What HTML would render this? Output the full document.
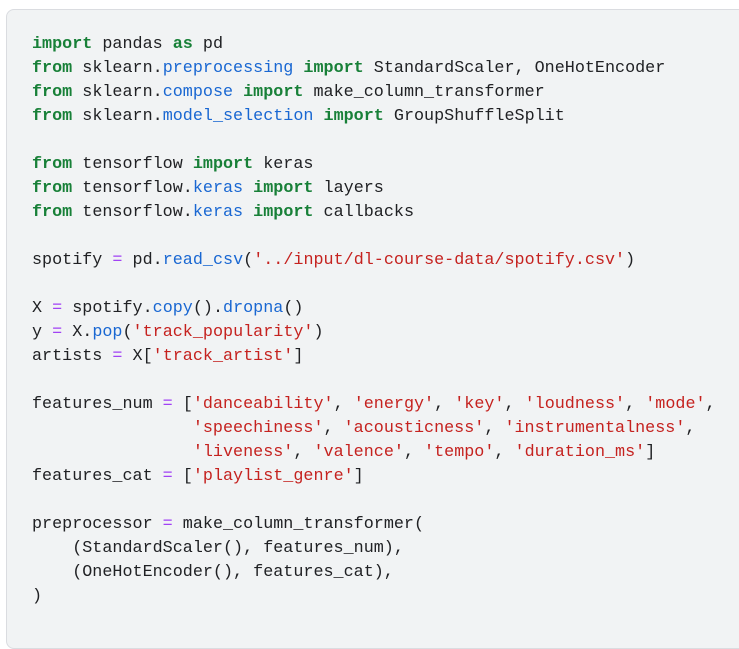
<!DOCTYPE html>
<html><head><style>
html,body{margin:0;padding:0;background:#fff;width:739px;height:620px;overflow:hidden}
.box{position:absolute;left:6px;top:9px;width:760px;height:640px;background:#f1f3f4;border:1px solid #dadce0;border-radius:8px;box-sizing:border-box}
pre{position:absolute;left:32px;top:33px;margin:0;font-family:"Liberation Mono",monospace;font-size:16.75px;line-height:24px;color:#202124}
.k{color:#188038;font-weight:bold}
.a{color:#1967d2}
.s{color:#c5221f}
.o{color:#a142f4}
</style></head><body>
<div class="box"></div>
<pre><span class="k">import</span> pandas <span class="k">as</span> pd
<span class="k">from</span> sklearn.<span class="a">preprocessing</span> <span class="k">import</span> StandardScaler, OneHotEncoder
<span class="k">from</span> sklearn.<span class="a">compose</span> <span class="k">import</span> make_column_transformer
<span class="k">from</span> sklearn.<span class="a">model_selection</span> <span class="k">import</span> GroupShuffleSplit

<span class="k">from</span> tensorflow <span class="k">import</span> keras
<span class="k">from</span> tensorflow.<span class="a">keras</span> <span class="k">import</span> layers
<span class="k">from</span> tensorflow.<span class="a">keras</span> <span class="k">import</span> callbacks

spotify <span class="o">=</span> pd.<span class="a">read_csv</span>(<span class="s">'../input/dl-course-data/spotify.csv'</span>)

X <span class="o">=</span> spotify.<span class="a">copy</span>().<span class="a">dropna</span>()
y <span class="o">=</span> X.<span class="a">pop</span>(<span class="s">'track_popularity'</span>)
artists <span class="o">=</span> X[<span class="s">'track_artist'</span>]

features_num <span class="o">=</span> [<span class="s">'danceability'</span>, <span class="s">'energy'</span>, <span class="s">'key'</span>, <span class="s">'loudness'</span>, <span class="s">'mode'</span>,
                <span class="s">'speechiness'</span>, <span class="s">'acousticness'</span>, <span class="s">'instrumentalness'</span>,
                <span class="s">'liveness'</span>, <span class="s">'valence'</span>, <span class="s">'tempo'</span>, <span class="s">'duration_ms'</span>]
features_cat <span class="o">=</span> [<span class="s">'playlist_genre'</span>]

preprocessor <span class="o">=</span> make_column_transformer(
    (StandardScaler(), features_num),
    (OneHotEncoder(), features_cat),
)
</pre>
</body></html>
